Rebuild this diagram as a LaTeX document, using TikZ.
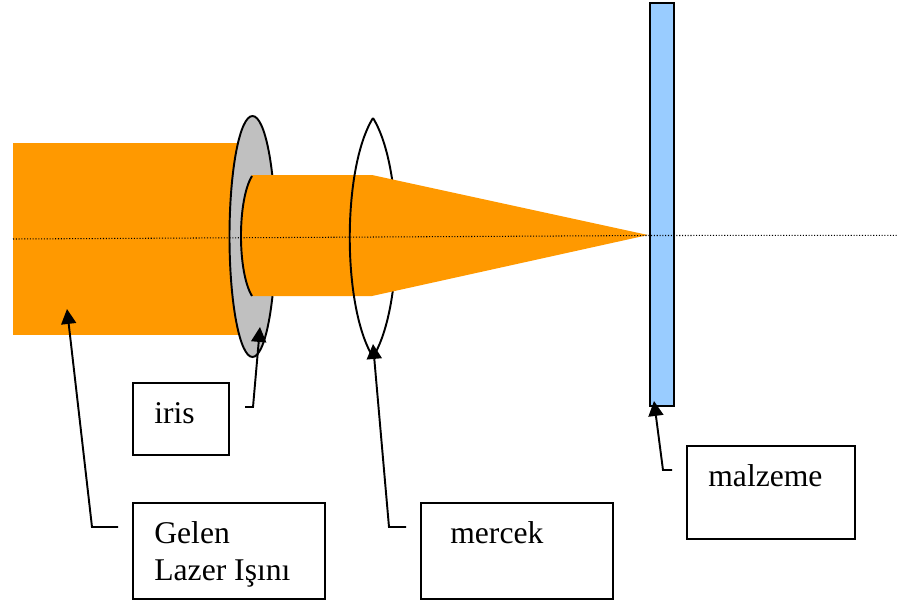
\documentclass[tikz,border=0pt]{standalone}
\usepackage{fontspec}
\setmainfont{Liberation Serif}
\usetikzlibrary{arrows.meta}
\definecolor{beamorange}{HTML}{FF9900}
\definecolor{irisgray}{HTML}{C0C0C0}
\definecolor{platblue}{HTML}{99CCFF}
\tikzset{
    kutu/.style={draw, line width=1.1pt, inner sep=0pt},
    etiket/.style={anchor=base west, inner sep=0pt, align=left, font=\fontsize{18}{21}\selectfont},
    okcizgi/.style={-{Triangle[length=8.5pt,width=8.5pt]}, line width=1.1pt}
}
\begin{document}
\begin{tikzpicture}[x=0.02cm, y=-0.02cm]
    \useasboundingbox (0,0) rectangle (897,603);

    % 1. Gelen genis isin ve iris
    \fill[beamorange] (13,143) rectangle (250,335);
    \draw[fill=irisgray, line width=1.1pt] (252.5,236.5) ellipse [x radius=23, y radius=120.5];

    % 2. Mercegin sag yayi, isinin altinda kalir
    \draw[line width=1.1pt] (373,118) .. controls (404,168) and (404,307) .. (373,357);

    % 3. Odaklanan isin
    \fill[beamorange] (252,175) -- (372,175) -- (648,235) -- (372,296) -- (252,296)
        .. controls (237.3,272) and (237.3,200) .. (252,175) -- cycle;
    \draw[line width=1.1pt] (252,176) .. controls (237.3,200) and (237.3,272) .. (252,296);

    % 4. Mercegin sol yayi
    \draw[line width=1.1pt] (373,118) .. controls (342,168) and (342,307) .. (373,357);

    % 5. Malzeme ve optik eksen
    \draw[fill=platblue, line width=1.1pt] (650,3) rectangle (674,406);
    \draw[densely dotted, line width=0.6pt] (13,239) -- (648,235.5) -- (897,235.3);

    % 6. Etiket kutulari
    \node[kutu, minimum width=96*0.02cm, minimum height=72*0.02cm] (irisbox) at (181,419) {};
    \node[kutu, minimum width=192*0.02cm, minimum height=96*0.02cm] (gelenbox) at (229,551) {};
    \node[kutu, minimum width=192*0.02cm, minimum height=96*0.02cm] (mercekbox) at (517,551) {};
    \node[kutu, minimum width=168*0.02cm, minimum height=93*0.02cm] (malzemebox) at (771,492.5) {};

    \node[etiket] (iristext) at (154,423) {iris};
    \node[etiket] (gelentext) at (154,543) {Gelen};
    \node[etiket] (lazertext) at (154,580) {Lazer Işını};
    \node[etiket] (mercektext) at (450,543) {mercek};
    \node[etiket] (malzemetext) at (708,486) {malzeme};

    % 7. Oklar
    \coordinate (irisfoot) at (245,407);
    \coordinate (iristip) at (260,327);
    \coordinate (gelenfoot) at (118,527);
    \coordinate (gelentip) at (67,309);
    \coordinate (mercekfoot) at (406,527);
    \coordinate (mercektip) at (373,344);
    \coordinate (malzemefoot) at (672,470);
    \coordinate (malzemetip) at (654,401);

    \draw[okcizgi] (irisfoot) -- (253,407) -- (iristip);
    \draw[okcizgi] (gelenfoot) -- (92,527) -- (gelentip);
    \draw[okcizgi] (mercekfoot) -- (389,527) -- (mercektip);
    \draw[okcizgi] (malzemefoot) -- (663,470) -- (malzemetip);
\end{tikzpicture}
\end{document}
